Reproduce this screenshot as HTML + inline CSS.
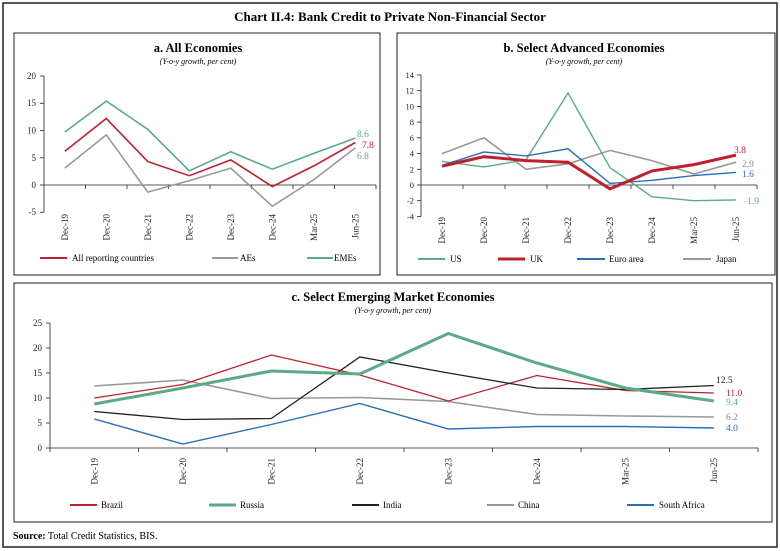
<!DOCTYPE html>
<html><head><meta charset="utf-8"><style>
html,body{margin:0;padding:0;background:#fff}
svg{display:block;font-family:"Liberation Serif",serif}
</style></head><body>
<svg width="780" height="551" viewBox="0 0 780 551" xmlns="http://www.w3.org/2000/svg">
<rect x="3" y="3" width="774" height="544" fill="none" stroke="#222" stroke-width="1.5"/>
<text x="390" y="21" text-anchor="middle" font-size="13" font-weight="bold">Chart II.4: Bank Credit to Private Non-Financial Sector</text>
<rect x="14" y="33" width="366" height="242" fill="none" stroke="#222" stroke-width="1"/>
<rect x="397" y="33" width="378" height="242" fill="none" stroke="#222" stroke-width="1"/>
<rect x="14" y="283" width="758" height="239" fill="none" stroke="#222" stroke-width="1"/>

<!-- Panel a -->
<text x="198" y="52" text-anchor="middle" font-size="12.5" font-weight="bold">a. All Economies</text>
<text x="198" y="64" text-anchor="middle" font-size="8" font-style="italic">(Y-o-y growth, per cent)</text>
<g font-size="9" text-anchor="end" fill="#222">
<text x="36" y="79">20</text><text x="36" y="106">15</text><text x="36" y="133.5">10</text><text x="36" y="161">5</text><text x="36" y="188">0</text><text x="36" y="215">-5</text></g>
<g stroke="#222" stroke-width="0.8">
<line x1="44" y1="76" x2="44" y2="212"/>
<line x1="40" y1="76" x2="44" y2="76"/><line x1="40" y1="103.3" x2="44" y2="103.3"/><line x1="40" y1="130.5" x2="44" y2="130.5"/><line x1="40" y1="157.8" x2="44" y2="157.8"/><line x1="40" y1="185" x2="44" y2="185"/><line x1="40" y1="212.3" x2="44" y2="212.3"/>
<line x1="44" y1="185" x2="376" y2="185"/>
<line x1="85.5" y1="185" x2="85.5" y2="189"/><line x1="127" y1="185" x2="127" y2="189"/><line x1="168.5" y1="185" x2="168.5" y2="189"/><line x1="210" y1="185" x2="210" y2="189"/><line x1="251.5" y1="185" x2="251.5" y2="189"/><line x1="293" y1="185" x2="293" y2="189"/><line x1="334.5" y1="185" x2="334.5" y2="189"/><line x1="376" y1="185" x2="376" y2="189"/>
</g>
<g fill="none" stroke-width="1.6">
<polyline stroke="#5aaa88" points="64.8,132.1 106.3,101.1 147.8,129.4 189.3,170.8 230.8,151.8 272.3,169.2 313.8,153.4 355.3,138.1"/>
<polyline stroke="#999" points="64.8,168.1 106.3,134.9 147.8,192.1 189.3,180.6 230.8,168.1 272.3,206.3 313.8,179.6 355.3,147.9"/>
<polyline stroke="#c0202e" points="64.8,151.2 106.3,118.5 147.8,161.6 189.3,175.7 230.8,159.9 272.3,186.6 313.8,165.9 355.3,142.5"/>
</g>
<g font-size="9.5">
<text x="357" y="137" fill="#5aaa88">8.6</text><text x="362" y="148" fill="#c0202e">7.8</text><text x="357" y="159" fill="#888">6.8</text></g>
<g font-size="9" text-anchor="end" fill="#222">
<text transform="translate(67.8,214) rotate(-90)">Dec-19</text><text transform="translate(109.3,214) rotate(-90)">Dec-20</text><text transform="translate(150.8,214) rotate(-90)">Dec-21</text><text transform="translate(192.3,214) rotate(-90)">Dec-22</text><text transform="translate(233.8,214) rotate(-90)">Dec-23</text><text transform="translate(275.3,214) rotate(-90)">Dec-24</text><text transform="translate(316.8,214) rotate(-90)">Mar-25</text><text transform="translate(358.3,214) rotate(-90)">Jun-25</text></g>
<g stroke-width="2"><line x1="40" y1="258" x2="67" y2="258" stroke="#c0202e"/><line x1="212" y1="258" x2="238" y2="258" stroke="#999"/><line x1="307" y1="258" x2="333" y2="258" stroke="#5aaa88"/></g>
<g font-size="9"><text x="72" y="261">All reporting countries</text><text x="240" y="261">AEs</text><text x="334" y="261">EMEs</text></g>

<!-- Panel b -->
<text x="584" y="52" text-anchor="middle" font-size="12.5" font-weight="bold">b. Select Advanced Economies</text>
<text x="584" y="64" text-anchor="middle" font-size="8" font-style="italic">(Y-o-y growth, per cent)</text>
<g font-size="8.5" text-anchor="end" fill="#222">
<text x="414" y="78">14</text><text x="414" y="93.7">12</text><text x="414" y="109.4">10</text><text x="414" y="125.1">8</text><text x="414" y="140.8">6</text><text x="414" y="156.6">4</text><text x="414" y="172.3">2</text><text x="414" y="188">0</text><text x="414" y="203.7">-2</text><text x="414" y="219.4">-4</text></g>
<g stroke="#222" stroke-width="0.8">
<line x1="421" y1="75" x2="421" y2="216.4"/>
<line x1="417" y1="75" x2="421" y2="75"/><line x1="417" y1="90.7" x2="421" y2="90.7"/><line x1="417" y1="106.4" x2="421" y2="106.4"/><line x1="417" y1="122.1" x2="421" y2="122.1"/><line x1="417" y1="137.8" x2="421" y2="137.8"/><line x1="417" y1="153.6" x2="421" y2="153.6"/><line x1="417" y1="169.3" x2="421" y2="169.3"/><line x1="417" y1="185" x2="421" y2="185"/><line x1="417" y1="200.7" x2="421" y2="200.7"/><line x1="417" y1="216.4" x2="421" y2="216.4"/>
<line x1="421" y1="185" x2="757" y2="185"/>
<line x1="463" y1="185" x2="463" y2="189"/><line x1="505" y1="185" x2="505" y2="189"/><line x1="547" y1="185" x2="547" y2="189"/><line x1="589" y1="185" x2="589" y2="189"/><line x1="631" y1="185" x2="631" y2="189"/><line x1="673" y1="185" x2="673" y2="189"/><line x1="715" y1="185" x2="715" y2="189"/><line x1="757" y1="185" x2="757" y2="189"/>
</g>
<g fill="none">
<polyline stroke="#999" stroke-width="1.6" points="442,153.6 484,137.8 526,169.3 568,163.8 610,150.4 652,160.6 694,174 736,162.2"/>
<polyline stroke="#5aaa88" stroke-width="1.4" points="442,161.4 484,166.9 526,159.8 568,93 610,167.7 652,196.8 694,200.7 736,199.9"/>
<polyline stroke="#2a6ebb" stroke-width="1.4" points="442,165.4 484,152 526,155.9 568,148.8 610,183.4 652,180.3 694,175.6 736,172.4"/>
<polyline stroke="#c0202e" stroke-width="3" points="442,166.1 484,156.7 526,160.6 568,162.2 610,188.9 652,170.9 694,164.6 736,155.1"/>
</g>
<g font-size="9.5"><text x="734" y="153" fill="#c0202e">3.8</text><text x="742" y="167" fill="#888">2.9</text><text x="742" y="177" fill="#2a6ebb">1.6</text><text x="744" y="204" fill="#5aaa88">-1.9</text></g>
<g font-size="9" text-anchor="end" fill="#222">
<text transform="translate(445,217) rotate(-90)">Dec-19</text><text transform="translate(487,217) rotate(-90)">Dec-20</text><text transform="translate(529,217) rotate(-90)">Dec-21</text><text transform="translate(571,217) rotate(-90)">Dec-22</text><text transform="translate(613,217) rotate(-90)">Dec-23</text><text transform="translate(655,217) rotate(-90)">Dec-24</text><text transform="translate(697,217) rotate(-90)">Mar-25</text><text transform="translate(739,217) rotate(-90)">Jun-25</text></g>
<g stroke-width="2"><line x1="418" y1="259" x2="445" y2="259" stroke="#5aaa88"/><line x1="498" y1="259" x2="525" y2="259" stroke="#c0202e" stroke-width="3"/><line x1="577" y1="259" x2="605" y2="259" stroke="#2a6ebb"/><line x1="683" y1="259" x2="711" y2="259" stroke="#999"/></g>
<g font-size="9"><text x="450" y="262">US</text><text x="530" y="262">UK</text><text x="609" y="262">Euro area</text><text x="716" y="262">Japan</text></g>

<!-- Panel c -->
<text x="393" y="301" text-anchor="middle" font-size="12.5" font-weight="bold">c. Select Emerging Market Economies</text>
<text x="393" y="313" text-anchor="middle" font-size="8" font-style="italic">(Y-o-y growth, per cent)</text>
<g font-size="9" text-anchor="end" fill="#222">
<text x="42" y="326">25</text><text x="42" y="351">20</text><text x="42" y="376">15</text><text x="42" y="401">10</text><text x="42" y="426">5</text><text x="42" y="451">0</text></g>
<g stroke="#222" stroke-width="0.8">
<line x1="50" y1="323" x2="50" y2="448"/>
<line x1="46" y1="323" x2="50" y2="323"/><line x1="46" y1="348" x2="50" y2="348"/><line x1="46" y1="373" x2="50" y2="373"/><line x1="46" y1="398" x2="50" y2="398"/><line x1="46" y1="423" x2="50" y2="423"/><line x1="46" y1="448" x2="50" y2="448"/>
<line x1="50" y1="448" x2="758" y2="448"/>
<line x1="50" y1="448" x2="50" y2="452"/><line x1="138.5" y1="448" x2="138.5" y2="452"/><line x1="227" y1="448" x2="227" y2="452"/><line x1="315.5" y1="448" x2="315.5" y2="452"/><line x1="404" y1="448" x2="404" y2="452"/><line x1="492.5" y1="448" x2="492.5" y2="452"/><line x1="581" y1="448" x2="581" y2="452"/><line x1="669.5" y1="448" x2="669.5" y2="452"/><line x1="758" y1="448" x2="758" y2="452"/>
</g>
<g fill="none">
<polyline stroke="#999" stroke-width="1.6" points="94.3,386 182.8,380 271.3,398.5 359.8,397.5 448.3,401.5 536.8,414.5 625.3,416 713.8,417"/>
<polyline stroke="#2a6ebb" stroke-width="1.4" points="94.3,419 182.8,444 271.3,424.5 359.8,403.5 448.3,429 536.8,426.5 625.3,426.5 713.8,428"/>
<polyline stroke="#c0202e" stroke-width="1.3" points="94.3,398 182.8,384.5 271.3,355 359.8,375 448.3,401 536.8,375.5 625.3,390.5 713.8,393"/>
<polyline stroke="#222" stroke-width="1.3" points="94.3,411.5 182.8,419.5 271.3,418.5 359.8,357 448.3,373 536.8,388 625.3,389.5 713.8,385.5"/>
<polyline stroke="#5aaa88" stroke-width="3" points="94.3,404 182.8,388 271.3,371 359.8,374 448.3,333.5 536.8,363 625.3,388 713.8,401"/>
</g>
<g font-size="9.5"><text x="716" y="383" fill="#222">12.5</text><text x="726" y="396" fill="#c0202e">11.0</text><text x="726" y="405" fill="#5aaa88">9.4</text><text x="726" y="420" fill="#888">6.2</text><text x="726" y="431" fill="#2a6ebb">4.0</text></g>
<g font-size="9" text-anchor="end" fill="#222">
<text transform="translate(97.3,458) rotate(-90)">Dec-19</text><text transform="translate(185.8,458) rotate(-90)">Dec-20</text><text transform="translate(274.3,458) rotate(-90)">Dec-21</text><text transform="translate(362.8,458) rotate(-90)">Dec-22</text><text transform="translate(451.3,458) rotate(-90)">Dec-23</text><text transform="translate(539.8,458) rotate(-90)">Dec-24</text><text transform="translate(628.3,458) rotate(-90)">Mar-25</text><text transform="translate(716.8,458) rotate(-90)">Jun-25</text></g>
<g stroke-width="2"><line x1="70" y1="505" x2="97" y2="505" stroke="#c0202e"/><line x1="209" y1="505" x2="236" y2="505" stroke="#5aaa88" stroke-width="3"/><line x1="352" y1="505" x2="379" y2="505" stroke="#222"/><line x1="487" y1="505" x2="514" y2="505" stroke="#999"/><line x1="627" y1="505" x2="654" y2="505" stroke="#2a6ebb"/></g>
<g font-size="9"><text x="101" y="508">Brazil</text><text x="240" y="508">Russia</text><text x="383" y="508">India</text><text x="518" y="508">China</text><text x="659" y="508">South Africa</text></g>

<text x="13" y="539" font-size="10"><tspan font-weight="bold">Source:</tspan> Total Credit Statistics, BIS.</text>
</svg>
</body></html>
